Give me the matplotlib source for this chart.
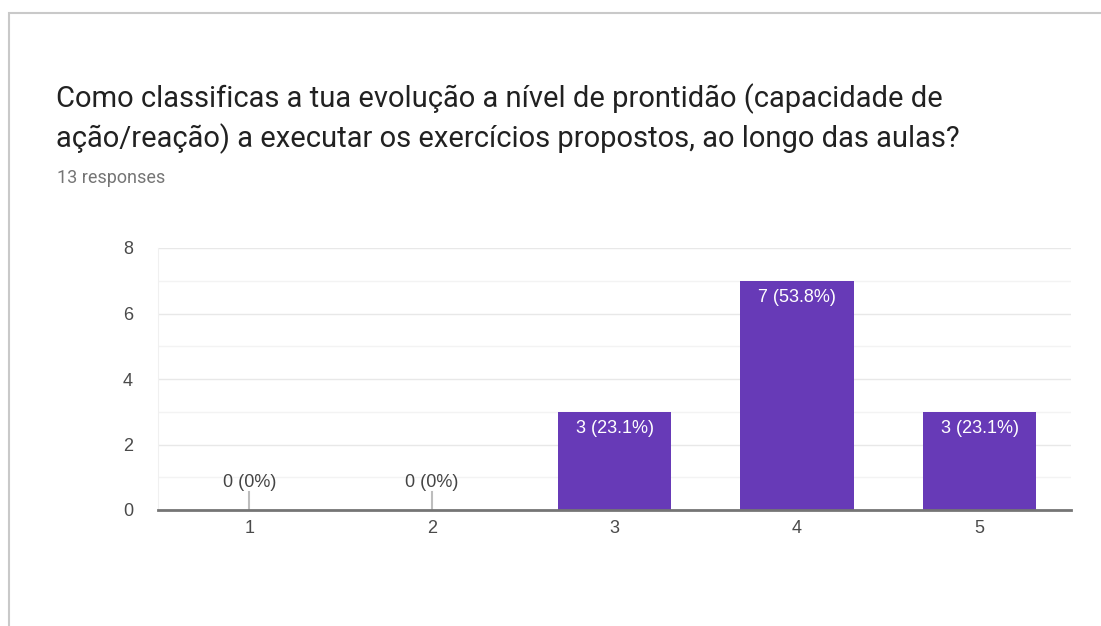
import matplotlib
matplotlib.use('Agg')
import matplotlib.pyplot as plt
from matplotlib.patches import Rectangle
import numpy as np

# survey answers
categories = ['1', '2', '3', '4', '5']
counts = [0, 0, 3, 7, 3]
total = 13
question = ('Como classificas a tua evolução a nível de prontidão (capacidade de\n'
            'ação/reação) a executar os exercícios propostos, ao longo das aulas?')
responses = '13 responses'

W, H = 1101, 626
fig = plt.figure(figsize=(W / 100, H / 100), dpi=100)
fig.patch.set_facecolor('white')

# card outline with a soft shadow
for off, col, lw in [(3, '#ececec', 4), (1.5, '#dedede', 2.5)]:
    fig.add_artist(Rectangle(((9 + off) / W, -0.2), 1.3, (H - 13 - off) / H + 0.2,
                             transform=fig.transFigure, fill=False,
                             edgecolor=col, linewidth=lw, zorder=0))
fig.add_artist(Rectangle((9 / W, -0.2), 1.3, (H - 13) / H + 0.2,
                         transform=fig.transFigure, facecolor='white',
                         edgecolor='#c9c9c9', linewidth=1.5, zorder=1))

fig.text(56 / W, 1 - 83 / H, question, fontsize=21, family='Roboto',
         color='#212121', va='top', ha='left', linespacing=1.42)
fig.text(57 / W, 1 - 178 / H, responses, fontsize=13, family='Roboto',
         color='#757575', va='center', ha='left')

x0, x1, ytop, ybot = 158, 1071, 248, 510
ax = fig.add_axes([x0 / W, 1 - ybot / H, (x1 - x0) / W, (ybot - ytop) / H])
ax.set_facecolor('white')
ax.set_zorder(2)

x = np.arange(len(categories))
ax.bar(x, counts, width=0.62, color='#673ab7', zorder=3)

for xi, c in zip(x, counts):
    pct = 100 * c / total
    lab = f'{c} ({pct:.0f}%)' if c == 0 else f'{c} ({pct:.1f}%)'
    if c == 0:
        ax.plot([xi, xi], [0, 0.55], color='#bdbdbd', lw=1.5, zorder=3)
        ax.text(xi, 0.57, lab, ha='center', va='bottom', fontsize=13,
                family='Liberation Sans', color='#444444')
    else:
        ax.text(xi, c - 0.25, lab, ha='center', va='top', fontsize=13,
                family='Liberation Sans', color='white', zorder=4)

ax.set_xlim(-0.5, len(categories) - 0.5)
ax.set_ylim(0, 8)
ax.set_yticks([0, 2, 4, 6, 8])
ax.set_yticks(np.arange(1, 8, 2), minor=True)
ax.set_xticks(x)
ax.set_xticklabels(categories)
ax.grid(axis='y', which='major', color='#e8e8e8', lw=1, zorder=0)
ax.grid(axis='y', which='minor', color='#f3f3f3', lw=1, zorder=0)
ax.tick_params(which='both', length=0, labelsize=13, labelcolor='#4a4a4a')
ax.tick_params(axis='y', pad=18)
ax.tick_params(axis='x', pad=7)
for t in ax.get_xticklabels() + ax.get_yticklabels():
    t.set_family('Liberation Sans')
for s in ['top', 'right']:
    ax.spines[s].set_visible(False)
ax.spines['left'].set_color('#f0f0f0')
ax.spines['bottom'].set_color('#757575')
ax.spines['bottom'].set_linewidth(2)
ax.spines['bottom'].set_zorder(5)

fig.savefig('out.png', dpi=100, facecolor='white')
